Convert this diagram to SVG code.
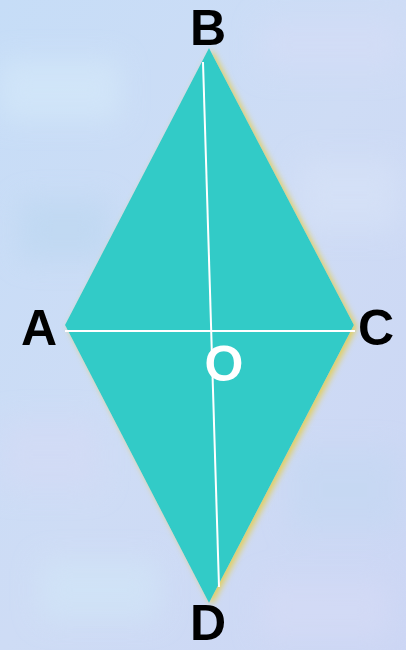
<svg xmlns="http://www.w3.org/2000/svg" width="406" height="650" viewBox="0 0 406 650">
<defs>
<linearGradient id="bg" x1="0" y1="0" x2="1" y2="1">
<stop offset="0" stop-color="#c6ddf7"/>
<stop offset="0.5" stop-color="#cedcf5"/>
<stop offset="1" stop-color="#ccd6f4"/>
</linearGradient>
<filter id="blur" x="-50%" y="-50%" width="200%" height="200%"><feGaussianBlur stdDeviation="14"/></filter>
<filter id="glow" x="-20%" y="-20%" width="140%" height="140%">
<feDropShadow dx="3" dy="2" stdDeviation="3" flood-color="#e2cf5a" flood-opacity="1"/>
</filter>
<style>
.lbl{font-family:"Liberation Sans",Arial,sans-serif;font-weight:bold;font-size:50px;text-anchor:middle;fill:#000}
.o{fill:#fff}
.diag{stroke:#fff;stroke-width:2;fill:none}
</style>
</defs>
<rect width="406" height="650" fill="url(#bg)"/>
<g filter="url(#blur)" opacity="0.55">
<rect x="0" y="60" width="120" height="60" fill="#d8ecfa"/>
<rect x="260" y="20" width="140" height="50" fill="#d6ddf7"/>
<rect x="20" y="200" width="90" height="60" fill="#b9d6ef"/>
<rect x="300" y="160" width="100" height="70" fill="#d9e4f8"/>
<rect x="0" y="420" width="100" height="70" fill="#d5daf5"/>
<rect x="290" y="450" width="110" height="80" fill="#c2d8f2"/>
<rect x="40" y="560" width="120" height="60" fill="#d2e8f8"/>
<rect x="260" y="580" width="130" height="60" fill="#d7dcf6"/>
</g>
<g id="rhombus">
<polygon points="209,48 354,325 209,603 65,325" fill="#33cbc7" filter="url(#glow)"/>
</g>
<g id="connectors">
<line class="diag" x1="203" y1="62" x2="219" y2="587"/>
<line class="diag" x1="65" y1="331" x2="355" y2="331"/>
</g>
<g id="node-B"><text class="lbl" x="208" y="45">B</text></g>
<g id="node-A"><text class="lbl" x="39" y="345">A</text></g>
<g id="node-C"><text class="lbl" x="376" y="345">C</text></g>
<g id="node-D"><text class="lbl" x="208" y="640">D</text></g>
<g id="node-O"><text class="lbl o" x="224" y="381">O</text></g>
</svg>
